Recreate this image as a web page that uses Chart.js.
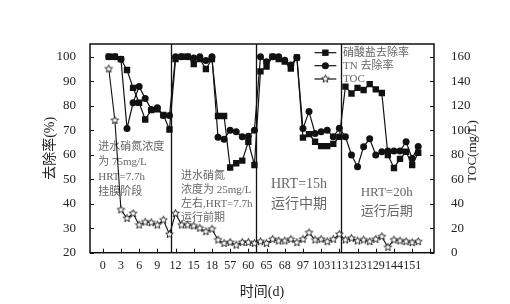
<!DOCTYPE html>
<html>
<head>
<meta charset="utf-8">
<script src="https://cdn.jsdelivr.net/npm/chart.js@4"></script>
<style>
  html, body { margin: 0; padding: 0; background: #fff; }
</style>
</head>
<body>
<canvas id="chart" width="510" height="304"></canvas>
<script>
// x axis: one tick every 3 samples, labelled with the day
const xTickLabels = ['0', '3', '6', '9', '12', '15', '18', '57', '60', '65', '68', '97', '103', '113', '123', '129', '144', '151', ''];

// samples 1..52
const nitrateRemoval = [100, 100, 99, 94.6, 87.3, 81.2, 74.4, 78.2, 78.5, 76.2, 70.3,
  99, 100, 100, 97, 99, 95, 99, 75.8, 75.8, 54.8, 56.5, 57.6, 65.3, 55.8,
  94, 96, 100, 99, 98, 95.2, 99.7, 67, 68.4, 65.3, 63.5, 63.5, 64.4, 67.3,
  87.8, 85, 87.3, 86.4, 88.8, 86.7, 85.2, 59.9, 54.6, 58.3, 61.2, 55.8, 60.8];
const tnRemoval = [100, 100, 99, 70.7, 81.2, 87.8, 83, 78.5, 79.2, 76, 76,
  100, 100, 100, 99.5, 100, 98.5, 100, 67.1, 66.3, 70, 69.4, 67.3, 67.5, 70,
  100, 98, 100, 100, 98.6, 96.6, 99.7, 70.7, 77.6, 68.7, 69.4, 70, 67.3, 70.8,
  67.3, 59.9, 55.1, 63.3, 66.5, 59.9, 61.2, 61.5, 61.5, 61.5, 65.3, 58.5, 63.4];
const tocValue = [150, 108, 35, 28, 32, 22.6, 25, 24.5, 22.6, 26.6, 15,
  32, 22.6, 22.6, 21.8, 20, 17.2, 19.2, 10.4, 7.6, 8.4, 6.2, 8.4, 8.4, 7.6,
  9, 7.6, 10.9, 9.6, 9.6, 10.9, 8.2, 10.9, 16.3, 10.4, 10.9, 9, 10.9, 15,
  10.4, 11.7, 9.6, 10.4, 9, 10.9, 13.1, 4.4, 10.4, 9.6, 9, 8.2, 9];

const seriesNames = ['硝酸盐去除率', 'TN 去除率', 'TOC'];
const phaseBreaks = [11.25, 25.3, 39.35];

const phaseNotes = [
  { x: -0.75, y: 63.2, size: 11, align: 'left', lines: ['进水硝氮浓度', '为 75mg/L', 'HRT=7.7h', '挂膜阶段'], step: 15 },
  { x: 12.9, y: 51.2, size: 11, align: 'left', lines: ['进水硝氮', '浓度为 25mg/L', '左右,HRT=7.7h', '运行前期'], step: 14 },
  { x: 32.35, y: 48, size: 14, align: 'center', lines: ['HRT=15h', '运行中期'], step: 20 },
  { x: 46.8, y: 44.4, size: 13, align: 'center', lines: ['HRT=20h', '运行后期'], step: 19 }
];

const SERIF = "'Liberation Serif', 'Noto Sans CJK SC', serif";

function makeStar(r) {
  const s = Math.ceil(r * 2 + 3);
  const c = document.createElement('canvas');
  c.width = c.height = s;
  const g = c.getContext('2d');
  g.beginPath();
  for (let k = 0; k < 10; k++) {
    const a = -Math.PI / 2 + k * Math.PI / 5;
    const rr = k % 2 ? r * 0.45 : r;
    g.lineTo(s / 2 + rr * Math.cos(a), s / 2 + rr * Math.sin(a));
  }
  g.closePath();
  g.fillStyle = '#fff';
  g.fill();
  g.strokeStyle = '#111';
  g.lineWidth = 0.9;
  g.stroke();
  return c;
}
const starImg = makeStar(4);

const toPoints = arr => arr.map((v, i) => ({ x: i + 1, y: v }));

const decor = {
  id: 'decor',
  beforeDatasetsDraw(chart) {
    const { ctx, chartArea: a, scales } = chart;
    ctx.save();
    ctx.strokeStyle = '#111';
    ctx.lineWidth = 1.3;
    phaseBreaks.forEach(b => {
      const px = Math.round(scales.x.getPixelForValue(b)) + 0.5;
      ctx.beginPath();
      ctx.moveTo(px, a.top);
      ctx.lineTo(px, a.bottom);
      ctx.stroke();
    });
    // notes
    ctx.fillStyle = '#666';
    ctx.textBaseline = 'middle';
    phaseNotes.forEach(n => {
      ctx.font = n.size + 'px ' + SERIF;
      ctx.textAlign = n.align;
      const px = scales.x.getPixelForValue(n.x);
      const py = scales.y.getPixelForValue(n.y);
      n.lines.forEach((t, k) => ctx.fillText(t, px, py + k * n.step));
    });
    ctx.restore();
  },
  afterDraw(chart) {
    const { ctx, chartArea: a, scales } = chart;
    ctx.save();
    ctx.strokeStyle = '#111';
    ctx.lineWidth = 1.5;
    ctx.strokeRect(a.left, a.top, a.right - a.left, a.bottom - a.top);
    ctx.lineWidth = 1;
    ctx.beginPath();
    scales.x.ticks.forEach(t => {
      const px = Math.round(scales.x.getPixelForValue(t.value)) + 0.5;
      ctx.moveTo(px, a.bottom);
      ctx.lineTo(px, a.bottom - 4);
    });
    scales.y.ticks.forEach(t => {
      const py = Math.round(scales.y.getPixelForValue(t.value)) + 0.5;
      ctx.moveTo(a.left, py);
      ctx.lineTo(a.left + 4, py);
    });
    scales.y2.ticks.forEach(t => {
      const py = Math.round(scales.y2.getPixelForValue(t.value)) + 0.5;
      ctx.moveTo(a.right, py);
      ctx.lineTo(a.right - 4, py);
    });
    ctx.stroke();

    // right axis title, reading bottom to top
    ctx.save();
    ctx.translate(a.right + 39, (a.top + a.bottom) / 2 + 3);
    ctx.rotate(-Math.PI / 2);
    ctx.fillStyle = '#222';
    ctx.font = '13px ' + SERIF;
    ctx.textAlign = 'center';
    ctx.textBaseline = 'middle';
    ctx.fillText('TOC(mg/L)', 0, 0);
    ctx.restore();

    // legend, top right
    const lx0 = scales.x.getPixelForValue(34.9);
    const lx1 = scales.x.getPixelForValue(38.5);
    const mx = (lx0 + lx1) / 2;
    const rows = [52.7, 65.7, 79];
    ctx.font = '11px ' + SERIF;
    ctx.textBaseline = 'middle';
    ctx.textAlign = 'left';
    seriesNames.forEach((name, k) => {
      const y = rows[k];
      ctx.strokeStyle = '#111';
      ctx.lineWidth = 1.2;
      ctx.beginPath();
      ctx.moveTo(lx0, y);
      ctx.lineTo(lx1, y);
      ctx.stroke();
      ctx.fillStyle = '#111';
      if (k === 0) ctx.fillRect(mx - 3.2, y - 3.2, 6.4, 6.4);
      else if (k === 1) { ctx.beginPath(); ctx.arc(mx, y, 3.5, 0, Math.PI * 2); ctx.fill(); }
      else ctx.drawImage(starImg, mx - starImg.width / 2, y - starImg.height / 2);
      ctx.fillStyle = '#666';
      ctx.fillText(name, a.right - 91, y);
    });
    ctx.restore();
  }
};

new Chart(document.getElementById('chart'), {
  type: 'line',
  data: {
    datasets: [
      {
        label: seriesNames[0], data: toPoints(nitrateRemoval), yAxisID: 'y',
        borderColor: '#111', backgroundColor: '#111', borderWidth: 1.2,
        pointStyle: 'rect', pointRadius: 4.5, pointBorderWidth: 0, tension: 0
      },
      {
        label: seriesNames[1], data: toPoints(tnRemoval), yAxisID: 'y',
        borderColor: '#111', backgroundColor: '#111', borderWidth: 1.2,
        pointStyle: 'circle', pointRadius: 3.5, pointBorderWidth: 0, tension: 0
      },
      {
        label: seriesNames[2], data: toPoints(tocValue), yAxisID: 'y2',
        borderColor: '#111', backgroundColor: '#fff', borderWidth: 1.1,
        pointStyle: starImg, pointRadius: 4, tension: 0
      }
    ]
  },
  plugins: [decor],
  options: {
    responsive: false,
    animation: false,
    layout: { padding: { top: 44, left: 0, right: 0, bottom: 0 } },
    plugins: { legend: { display: false }, tooltip: { enabled: false } },
    scales: {
      x: {
        type: 'linear', position: 'bottom', min: -2.1, max: 54.6,
        grid: { display: false, drawTicks: false }, border: { display: false },
        ticks: {
          stepSize: 3, includeBounds: false, autoSkip: false, maxRotation: 0, padding: 6,
          color: '#222', font: { family: SERIF, size: 12 },
          callback: v => xTickLabels[Math.round(v / 3)] ?? ''
        },
        title: { display: true, text: '时间(d)', color: '#222', font: { family: SERIF, size: 14 }, padding: { top: 0, bottom: 3.6 } },
        afterFit: s => { s.height = 51.3; }
      },
      y: {
        type: 'linear', position: 'left', min: 20, max: 105.2,
        grid: { display: false }, border: { display: false },
        ticks: { stepSize: 10, includeBounds: false, padding: 6, color: '#222', font: { family: SERIF, size: 13 } },
        title: { display: true, text: '去除率(%)', color: '#222', font: { family: SERIF, size: 14 }, padding: { top: 42, bottom: 0 } },
        afterFit: s => { s.width = 90; }
      },
      y2: {
        type: 'linear', position: 'right', min: 0, max: 170.4,
        grid: { display: false }, border: { display: false },
        ticks: { stepSize: 20, includeBounds: false, padding: 9, color: '#222', font: { family: SERIF, size: 13 } },
        title: { display: false },
        afterFit: s => { s.width = 76; }
      }
    }
  }
});
</script>
</body>
</html>
